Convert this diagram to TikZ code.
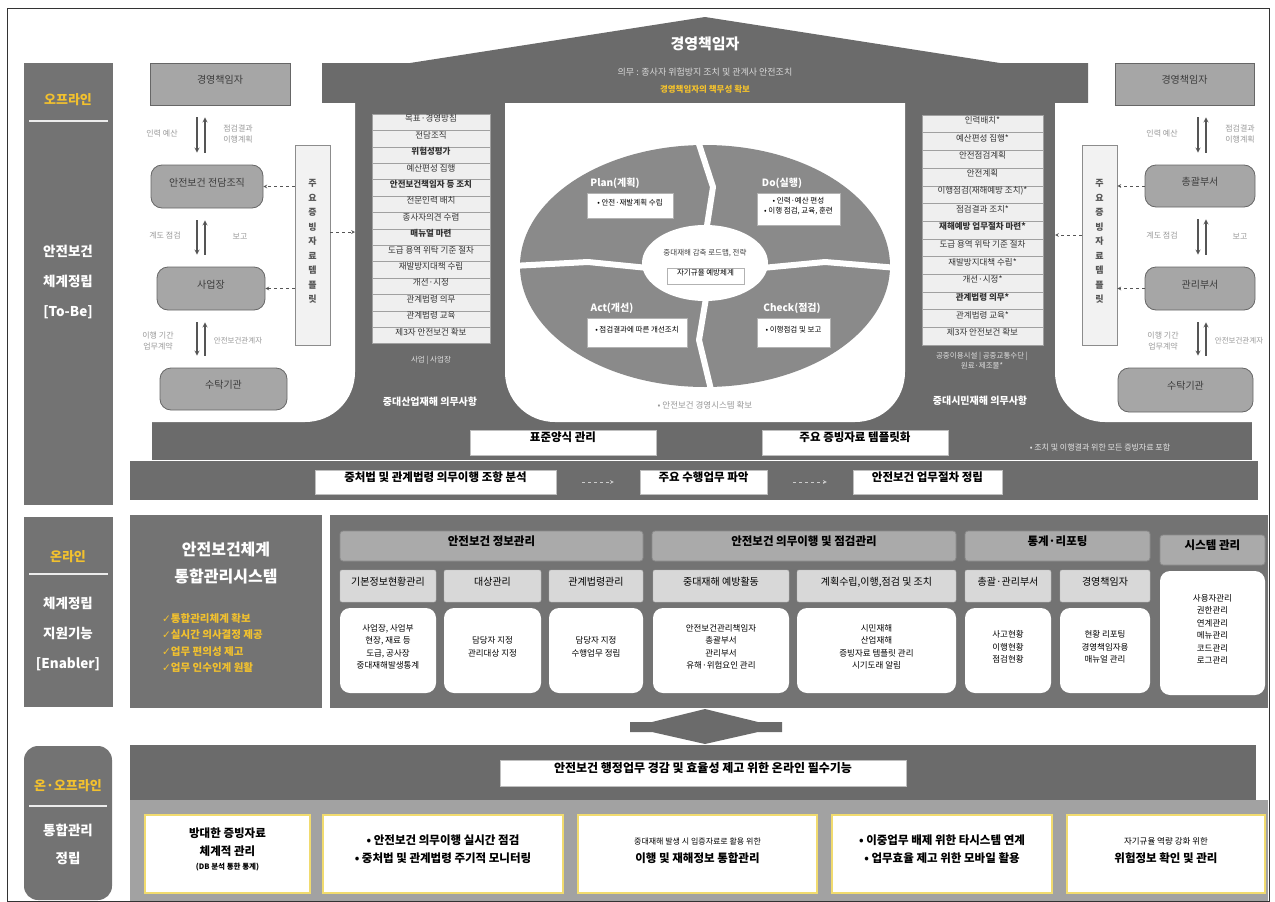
\documentclass[tikz,border=0pt]{standalone}
\usepackage{fontspec}
\setmainfont{Noto Sans CJK KR}
\newfontfamily\symfont{DejaVu Sans}
\usetikzlibrary{fit}
\definecolor{offyellow}{HTML}{F2C12E}
\definecolor{housegray}{HTML}{6B6B6B}
\definecolor{sidegray}{HTML}{737373}
\definecolor{pdcagray}{HTML}{8A8A8A}
\definecolor{orgfill}{HTML}{A6A6A6}
\definecolor{orgline}{HTML}{666666}
\definecolor{orgtext}{HTML}{3C3C3C}
\definecolor{lblgray}{HTML}{9A9A9A}
\definecolor{arrgray}{HTML}{555555}
\definecolor{tplfill}{HTML}{F2F2F2}
\definecolor{tplline}{HTML}{8C8C8C}
\definecolor{tpltext}{HTML}{555555}
\definecolor{itemfill}{HTML}{EFEFEF}
\definecolor{itemline}{HTML}{A0A0A0}
\definecolor{headgray}{HTML}{AAAAAA}
\definecolor{headline}{HTML}{8A8A8A}
\definecolor{subgray}{HTML}{D8D8D8}
\definecolor{subline}{HTML}{B5B5B5}
\definecolor{goalline}{HTML}{F1DB6E}
\definecolor{goalband}{HTML}{A2A2A2}

\begin{document}
\begin{tikzpicture}[x=1pt, y=-1pt, inner sep=0pt,
		side/.style={fill=sidegray},
		sidehead/.style={text=offyellow, font=\fontsize{13}{15}\selectfont\bfseries},
		sidetext/.style={text=white, align=center, font=\fontsize{13.5}{30}\selectfont\bfseries},
		orgbox/.style={draw=orgline, fill=orgfill, line width=0.8pt, text=orgtext, font=\fontsize{10}{12}\selectfont},
		orground/.style={orgbox, rounded corners=11pt},
		flowlbl/.style={text=lblgray, align=center, font=\fontsize{8}{11}\selectfont},
		flowarr/.style={->, >=stealth, draw=arrgray, line width=1.2pt, shorten >=12pt, shorten <=12pt},
		tplbox/.style={draw=tplline, fill=tplfill, line width=0.8pt, align=center, text=tpltext, font=\fontsize{9}{14.5}\selectfont\bfseries},
		tplarr/.style={->, >=stealth, dashed, draw=arrgray, line width=0.7pt},
		litem/.style={draw=itemline, fill=itemfill, line width=0.5pt, text=black!80, font=\fontsize{8.5}{10}\selectfont},
		pillarnote/.style={text=gray!25, align=center, font=\fontsize{7.5}{10}\selectfont},
		pillarhead/.style={text=white, font=\fontsize{10}{12}\selectfont\bfseries},
		pdcahead/.style={text=white, font=\fontsize{10}{12}\selectfont\bfseries},
		pdcabox/.style={draw=gray!60, fill=white, align=left, font=\fontsize{7.5}{10}\selectfont},
		bandbox/.style={draw=gray!50, fill=white, font=\fontsize{11.5}{13}\selectfont\bfseries},
		bandarr/.style={->, >=stealth, dashed, draw=gray!40, line width=0.7pt, shorten >=26pt, shorten <=26pt},
		head/.style={draw=headline, fill=headgray, rounded corners=3pt, line width=0.8pt, font=\fontsize{11.5}{13}\selectfont\bfseries},
		subhead/.style={draw=subline, fill=subgray, rounded corners=2pt, font=\fontsize{10}{12}\selectfont},
		cell/.style={fill=white, rounded corners=10pt, align=center, font=\fontsize{8.5}{12.5}\selectfont},
		goal/.style={draw=goalline, fill=white, line width=2.5pt, align=center, font=\fontsize{11.5}{18}\selectfont\bfseries}
	]
	\useasboundingbox (0,0) rectangle (1275,902);

	% side bars
	\node[side, fit={(24,63)(113,505)}] (offbar) {};
	\node[sidehead] (offhead) at (68,100) {오프라인};
	\draw[gray!15, line width=2pt] (29,121) -- (108,121);
	\node[sidetext] (offtext) at (68,282) {안전보건\\체계정립\\{[To-Be]}};
	\node[side, fit={(24,517)(113,707)}] (onbar) {};
	\node[sidehead] (onhead) at (68,557) {온라인};
	\draw[gray!15, line width=2pt] (29,574) -- (108,574);
	\node[sidetext] (ontext) at (68,634) {체계정립\\지원기능\\{[Enabler]}};
	\node[side, rounded corners=14pt, fit={(24,746)(112,900)}] (bothbar) {};
	\node[sidehead] (bothhead) at (68,786) {온·오프라인};
	\draw[gray!15, line width=2pt] (29,806) -- (107,806);
	\node[sidetext, font=\fontsize{13.5}{28}\selectfont\bfseries] (bothtext) at (68,844) {통합관리\\정립};

	% house
	\fill[housegray] (322,103) -- (322,63) -- (410,63) -- (705,17) -- (1000,63) -- (1088,63) -- (1088,103) -- cycle;
	\fill[housegray] (152,103) rectangle (1252,460);
	\fill[white] (152,103) -- (355,103) -- (355,372) .. controls (355,400) and (333,422) .. (305,422) -- (152,422) -- cycle;
	\fill[white] (505,103) -- (905,103) -- (905,372) .. controls (905,400) and (883,422) .. (855,422) -- (555,422) .. controls (527,422) and (505,400) .. (505,372) -- cycle;
	\fill[white] (1055,103) -- (1252,103) -- (1252,422) -- (1105,422) .. controls (1077,422) and (1055,400) .. (1055,372) -- cycle;
	\fill[sidegray!95!black] (130,461) rectangle (1258,500);
	\node[text=white, font=\fontsize{15}{17}\selectfont\bfseries] (ceo) at (705,44) {경영책임자};
	\node[text=gray!30, font=\fontsize{9}{11}\selectfont] (duty) at (705,72) {의무 : 종사자 위험방지 조치 및 관계사 안전조치};
	\node[text=offyellow, font=\fontsize{8.5}{10}\selectfont\bfseries] (resp) at (705,89) {경영책임자의 책무성 확보};

	% left flow
	\node[orgbox, fit={(150,63)(290,105)}] (lceo) {경영책임자};
	\node[orground, fit={(151,165)(263,208)}] (ljd) {안전보건 전담조직};
	\node[orground, fit={(157,267)(265,310)}] (lsite) {사업장};
	\node[orground, fit={(160,368)(287,410)}] (ltrust) {수탁기관};
	\coordinate (ldn) at (197,0);
	\coordinate (lup) at (205,0);
	\draw[flowarr] (lceo.south -| ldn) -- (ljd.north -| ldn);
	\draw[flowarr] (ljd.north -| lup) -- (lceo.south -| lup);
	\draw[flowarr] (ljd.south -| ldn) -- (lsite.north -| ldn);
	\draw[flowarr] (lsite.north -| lup) -- (ljd.south -| lup);
	\draw[flowarr] (lsite.south -| ldn) -- (ltrust.north -| ldn);
	\draw[flowarr] (ltrust.north -| lup) -- (lsite.south -| lup);
	\node[flowlbl] (lla) at (162,134) {인력 예산};
	\node[flowlbl] (llb) at (238,134) {점검결과\\이행계획};
	\node[flowlbl] (llc) at (165,236) {계도 점검};
	\node[flowlbl] (lld) at (240,236) {보고};
	\node[flowlbl] (lle) at (158,341) {이행 기간\\업무계약};
	\node[flowlbl, font=\fontsize{7.5}{10}\selectfont] (llf) at (238,341) {안전보건관계자};
	\node[tplbox, fit={(295,145)(330,345)}] (ltpl) {주\\요\\증\\빙\\자\\료\\템\\플\\릿};
	\coordinate (lpil) at (355,232);
	\draw[tplarr] (ltpl.west |- ljd.east) -- (ljd.east);
	\draw[tplarr] (ltpl.west |- lsite.east) -- (lsite.east);
	\draw[tplarr] (ltpl.east |- lpil) -- (lpil);

	% left pillar list
	\foreach \t [count=\i] in {목표·경영방침, 전담조직, \textbf{위험성평가}, 예산편성 집행, \textbf{안전보건책임자 등 조치}, 전문인력 배치, 종사자의견 수렴, \textbf{매뉴얼 마련}, 도급 용역 위탁 기준 절차, 재발방지대책 수립, 개선·시정, 관계법령 의무, 관계법령 교육, 제3자 안전보건 확보}
		\node[litem, fit={(372,{114+(\i-1)*16.4}) (490,{114+\i*16.4})}] (li\i) {\t};
	\node[pillarnote] (lnote) at (431,360) {사업 | 사업장};
	\node[pillarhead] (lpillar) at (430,402) {중대산업재해 의무사항};

	% right pillar list
	\foreach \t [count=\i] in {인력배치*, 예산편성 집행*, 안전점검계획, 안전계획, 이행점검(재해예방 조치)*, 점검결과 조치*, \textbf{재해예방 업무절차 마련*}, 도급 용역 위탁 기준 절차, 재발방지대책 수립*, 개선·시정*, \textbf{관계법령 의무*}, 관계법령 교육*, 제3자 안전보건 확보}
		\node[litem, fit={(922,{115+(\i-1)*17.7}) (1043,{115+\i*17.7})}] (ri\i) {\t};
	\node[pillarnote] (rnote) at (982,361) {공중이용시설 | 공중교통수단 |\\원료·제조물*};
	\node[pillarhead] (rpillar) at (980,401) {중대시민재해 의무사항};

	% right flow
	\node[orgbox, fit={(1115,63)(1254,105)}] (rceo) {경영책임자};
	\node[orground, fit={(1145,165)(1255,207)}] (rhq) {총괄부서};
	\node[orground, fit={(1145,267)(1255,310)}] (rmgr) {관리부서};
	\node[orground, fit={(1118,368)(1253,412)}] (rtrust) {수탁기관};
	\coordinate (rdn) at (1198,0);
	\coordinate (rup) at (1206,0);
	\draw[flowarr] (rceo.south -| rdn) -- (rhq.north -| rdn);
	\draw[flowarr] (rhq.north -| rup) -- (rceo.south -| rup);
	\draw[flowarr] (rhq.south -| rdn) -- (rmgr.north -| rdn);
	\draw[flowarr] (rmgr.north -| rup) -- (rhq.south -| rup);
	\draw[flowarr] (rmgr.south -| rdn) -- (rtrust.north -| rdn);
	\draw[flowarr] (rtrust.north -| rup) -- (rmgr.south -| rup);
	\node[flowlbl] (rla) at (1162,134) {인력 예산};
	\node[flowlbl] (rlb) at (1240,134) {점검결과\\이행계획};
	\node[flowlbl] (rlc) at (1162,236) {계도 점검};
	\node[flowlbl] (rld) at (1240,236) {보고};
	\node[flowlbl] (rle) at (1163,341) {이행 기간\\업무계약};
	\node[flowlbl, font=\fontsize{7.5}{10}\selectfont] (rlf) at (1239,341) {안전보건관계자};
	\node[tplbox, fit={(1082,145)(1117,345)}] (rtpl) {주\\요\\증\\빙\\자\\료\\템\\플\\릿};
	\coordinate (rpil) at (1055,235);
	\draw[tplarr] (rhq.west) -- (rtpl.east |- rhq.west);
	\draw[tplarr] (rmgr.west) -- (rtpl.east |- rmgr.west);
	\draw[tplarr] (rtpl.west |- rpil) -- (rpil);

	% PDCA
	\fill[pdcagray] (705,266) ellipse [x radius=185, y radius=121];
	\draw[white, line width=6pt, line join=round] (697,138) -- (713,187) -- (706,232);
	\draw[white, line width=6pt, line join=round] (512,266) -- (588,262) -- (648,268);
	\draw[white, line width=6pt, line join=round] (762,268) -- (825,262) -- (898,268);
	\draw[white, line width=6pt, line join=round] (706,298) -- (699,340) -- (712,394);
	\fill[white] (705,263) ellipse [x radius=63, y radius=38];
	\node[pdcahead] (plan) at (615,183) {Plan(계획)};
	\node[pdcabox, fit={(587,193)(673,218)}] (planbox) {• 안전·재발계획 수립};
	\node[pdcahead] (do) at (782,183) {Do(실행)};
	\node[pdcabox, fit={(757,193)(840,225)}] (dobox) {• 인력·예산 편성\\• 이행 점검, 교육, 훈련};
	\node[pdcahead] (act) at (612,308) {Act(개선)};
	\node[pdcabox, fit={(587,318)(687,347)}] (actbox) {• 점검결과에 따른 개선조치};
	\node[pdcahead] (check) at (792,308) {Check(점검)};
	\node[pdcabox, fit={(757,318)(830,347)}] (checkbox) {• 이행점검 및 보고};
	\node[text=black!75, font=\fontsize{7.5}{9}\selectfont] (core) at (705,253) {중대재해 감축 로드맵, 전략};
	\node[pdcabox, fit={(667,268)(744,284)}] (selfreg) {자기규율 예방체계};
	\node[text=gray!80, font=\fontsize{8.5}{10}\selectfont] (oms) at (705,405) {• 안전보건 경영시스템 확보};

	% bands
	\node[bandbox, fit={(470,430)(656,455)}] (form) {표준양식 관리};
	\node[bandbox, fit={(762,430)(948,455)}] (tmpl) {주요 증빙자료 템플릿화};
	\node[text=gray!20, font=\fontsize{8}{10}\selectfont] (tnote) at (1100,447) {• 조치 및 이행결과 위한 모든 증빙자료 포함};
	\node[bandbox, fit={(315,470)(556,494)}] (law) {중처법 및 관계법령 의무이행 조항 분석};
	\node[bandbox, fit={(640,470)(767,494)}] (task) {주요 수행업무 파악};
	\node[bandbox, fit={(853,470)(1002,494)}] (proc) {안전보건 업무절차 정립};
	\draw[bandarr] (law) -- (task);
	\draw[bandarr] (task) -- (proc);

	% online system
	\node[side, fit={(130,515)(322,708)}] (sys) {};
	\node[text=white, align=center, font=\fontsize{16}{27}\selectfont\bfseries] (systitle) at (226,563) {안전보건체계\\통합관리시스템};
	\node[anchor=west, text=offyellow, align=left, font=\fontsize{10.5}{16.5}\selectfont\bfseries] (sysgoal) at (162,643)
		{{\symfont ✓}통합관리체계 확보\\{\symfont ✓}실시간 의사결정 제공\\{\symfont ✓}업무 편의성 제고\\{\symfont ✓}업무 인수인계 원활};
	\node[side, fit={(330,515)(1268,708)}] (func) {};
	\node[head, fit={(340,531)(643,561)}] (hinfo) {안전보건 정보관리};
	\node[head, fit={(652,531)(956,561)}] (hduty) {안전보건 의무이행 및 점검관리};
	\node[head, fit={(965,531)(1150,561)}] (hstat) {통계·리포팅};
	\node[head, fit={(1160,535)(1265,565)}] (hsys) {시스템 관리};
	\foreach \xa/\xb/\t [count=\i] in {340/436/기본정보현황관리, 444/541/대상관리, 549/643/관계법령관리, 653/789/중대재해 예방활동, 797/956/{계획수립,이행,점검 및 조치}, 965/1051/총괄·관리부서, 1060/1150/경영책임자}
		\node[subhead, fit={(\xa,570)(\xb,602)}] (sub\i) {\t};
	\node[cell, fit={(340,608)(436,693)}] (c1) {사업장, 사업부\\현장, 재료 등\\도급, 공사장\\중대재해발생통계};
	\node[cell, fit={(444,608)(541,693)}] (c2) {담당자 지정\\관리대상 지정};
	\node[cell, fit={(549,608)(643,693)}] (c3) {담당자 지정\\수행업무 정립};
	\node[cell, fit={(653,608)(789,693)}] (c4) {안전보건관리책임자\\총괄부서\\관리부서\\유해·위험요인 관리};
	\node[cell, fit={(797,608)(956,693)}] (c5) {시민재해\\산업재해\\증빙자료 템플릿 관리\\시기도래 알림};
	\node[cell, fit={(965,608)(1051,693)}] (c6) {사고현황\\이행현황\\점검현황};
	\node[cell, fit={(1060,608)(1150,693)}] (c7) {현황 리포팅\\경영책임자용\\매뉴얼 관리};
	\node[cell, fit={(1160,571)(1265,695)}] (c8) {사용자관리\\권한관리\\연계관리\\메뉴관리\\코드관리\\로그관리};

	% link arrow
	\fill[housegray] (630,722) -- (652,722) -- (705,709) -- (758,722) -- (782,722) -- (782,732) -- (758,732) -- (705,744) -- (652,732) -- (630,732) -- cycle;

	% goals
	\node[fill=housegray, fit={(130,745)(1256,800)}] (onlineband) {};
	\node[bandbox, font=\fontsize{12}{14}\selectfont\bfseries, fit={(500,760)(906,786)}] (must) {안전보건 행정업무 경감 및 효율성 제고 위한 온라인 필수기능};
	\node[fill=goalband, fit={(130,800)(1268,901)}] (goalarea) {};
	\node[goal, fit={(145,815)(310,893)}] (g1) {방대한 증빙자료\\체계적 관리\\[-4pt]{\fontsize{7.5}{9}\selectfont (DB 분석 통한 통계)}};
	\node[goal, align=left, fit={(323,815)(563,893)}] (g2) {• 안전보건 의무이행 실시간 점검\\• 중처법 및 관계법령 주기적 모니터링};
	\node[goal, fit={(578,815)(817,893)}] (g3) {{\fontsize{8}{10}\selectfont\mdseries 중대재해 발생 시 입증자료로 활용 위한}\\이행 및 재해정보 통합관리};
	\node[goal, align=left, fit={(832,815)(1052,893)}] (g4) {• 이중업무 배제 위한 타시스템 연계\\• 업무효율 제고 위한 모바일 활용};
	\node[goal, fit={(1067,815)(1265,893)}] (g5) {{\fontsize{8.5}{10}\selectfont\mdseries 자기규율 역량 강화 위한}\\위험정보 확인 및 관리};

	\draw[black!80, line width=1pt] (7,8) rectangle (1269,901);
\end{tikzpicture}
\end{document}
